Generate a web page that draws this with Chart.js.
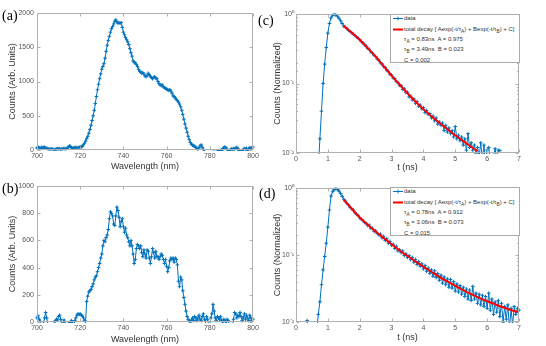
<!DOCTYPE html>
<html>
<head>
<meta charset="utf-8">
<script src="https://cdn.jsdelivr.net/npm/chart.js@4.4.1/dist/chart.umd.min.js"></script>
<style>
    body { margin: 0; background: #fff; }
    #wrap { position: relative; width: 546px; height: 346px; overflow: hidden; font-family: "Liberation Sans", Arial, sans-serif; }
    #wrap canvas { position: absolute; }
    .tag { position: absolute; font-family: "Liberation Serif", "Times New Roman", serif; font-size: 14px; line-height: 1; color: #000; }
    .legend { position: absolute; width: 128px; height: 47px; border: 1px solid #aaa; background: #fff; font-size: 6px; color: #333; }
    .legend .row { position: absolute; left: 13px; white-space: nowrap; line-height: 1; }
    .legend .sw { position: absolute; left: 2px; }
    .legend sub { font-size: 0.8em; vertical-align: -0.35em; line-height: 0; }
</style>
</head>
<body>
<div id="wrap">
    <canvas id="ca" width="273" height="173" style="left:0;top:0"></canvas>
    <canvas id="cb" width="273" height="173" style="left:0;top:173px"></canvas>
    <canvas id="cc" width="273" height="173" style="left:273px;top:0"></canvas>
    <canvas id="cd" width="273" height="173" style="left:273px;top:173px"></canvas>

    <div class="tag" style="left:2px;top:9px">(a)</div>
    <div class="tag" style="left:2px;top:182px">(b)</div>
    <div class="tag" style="left:258px;top:14px">(c)</div>
    <div class="tag" style="left:259px;top:187px">(d)</div>

    <div class="legend" style="left:390px;top:14px">
        <svg class="sw" style="top:1px" width="10" height="5"><line x1="0" y1="2.5" x2="10" y2="2.5" stroke="#0072BD" stroke-width="1"/><path d="M5 0.5V4.5M3 2.5H7" stroke="#0072BD" stroke-width="0.9"/></svg>
        <div class="row" style="top:0px">data</div>
        <svg class="sw" style="top:12px" width="10" height="5"><line x1="0" y1="2.5" x2="10" y2="2.5" stroke="#ff0000" stroke-width="2"/></svg>
        <div class="row" style="top:11px">total decay [ Aexp(-t/&tau;<sub>A</sub>) + Bexp(-t/&tau;<sub>B</sub>) + C]</div>
        <div class="row" style="top:21px">&tau;<sub>A</sub> = 0.83ns&nbsp; A = 0.975</div>
        <div class="row" style="top:31px">&tau;<sub>B</sub> = 3.49ns&nbsp; B = 0.023</div>
        <div class="row" style="top:42px">C = 0.002</div>
    </div>
    <div class="legend" style="left:390px;top:187px">
        <svg class="sw" style="top:1px" width="10" height="5"><line x1="0" y1="2.5" x2="10" y2="2.5" stroke="#0072BD" stroke-width="1"/><path d="M5 0.5V4.5M3 2.5H7" stroke="#0072BD" stroke-width="0.9"/></svg>
        <div class="row" style="top:0px">data</div>
        <svg class="sw" style="top:12px" width="10" height="5"><line x1="0" y1="2.5" x2="10" y2="2.5" stroke="#ff0000" stroke-width="2"/></svg>
        <div class="row" style="top:11px">total decay [ Aexp(-t/&tau;<sub>A</sub>) + Bexp(-t/&tau;<sub>B</sub>) + C]</div>
        <div class="row" style="top:21px">&tau;<sub>A</sub> = 0.78ns&nbsp; A = 0.912</div>
        <div class="row" style="top:31px">&tau;<sub>B</sub> = 3.06ns&nbsp; B = 0.073</div>
        <div class="row" style="top:42px">C = 0.015</div>
    </div>
</div>
<script>
// --- data ---

// spectra, 700..800 nm every 0.5 nm (negative = below the axis, clipped)
const specStart = 700, specStep = 0.5;
const specA = [
    30, 40, 35, 25, 40, 30, 35, 40, 30, 25,
    20, 15, 10, 20, 15, 10, 5, 10, 15, 20,
    15, 20, 10, 15, 20, 25, 15, 20, 30, 40,
    60, 50, 35, 25, 30, 35, 40, 30, 35, 40,
    40, 45, 55, 75, 100, 130, 165, 200, 245, 300,
    360, 430, 500, 580, 680, 780, 880, 960, 1040, 1110,
    1180, 1220, 1260, 1340, 1440, 1530, 1600, 1660, 1720, 1770,
    1800, 1840, 1880, 1900, 1870, 1850, 1860, 1850, 1860, 1790,
    1720, 1680, 1640, 1610, 1580, 1540, 1480, 1420, 1370, 1300,
    1280, 1270, 1250, 1220, 1180, 1150, 1140, 1120, 1130, 1110,
    1080, 1070, 1090, 1120, 1100, 1070, 1060, 1040, 1060, 1070,
    1050, 1040, 1000, 970, 950, 940, 950, 920, 910, 900,
    890, 880, 870, 880, 860, 830, 790, 780, 760, 740,
    720, 700, 670, 630, 580, 520, 450, 380, 320, 260,
    200, 150, 110, 85, 70, 60, 55, 40, 25, 10,
    30, 60, 75, 40, 10, -20, -40, -60, -50, -45,
    -50, -40, -35, -45, -30, -40, -35, -20, -15, -10,
    -10, -5, 20, 35, 45, 30, 10, -15, -20, 5,
    15, 10, 20, 15, 25, 40, 20, -10, -25, -20,
    -10, 10, 20, 15, 25, -10, 20, 30, 25, 35,
    40
];
const specB = [
    30, 45, 20, 5, -20, -30, -10, 30, 70, 30,
    -20, -40, -50, -30, -40, -20, -10, 10, 20, 15,
    40, 50, 20, -10, -20, 15, -10, -30, -20, -10,
    -20, -5, 10, -10, -30, 10, 30, 50, 60, 55,
    60, 50, 45, 30, 10, 5, 150, 190, 220, 230,
    240, 260, 280, 310, 330, 340, 370, 400, 430, 470,
    500, 560, 600, 590, 620, 640, 680, 760, 810, 800,
    780, 720, 710, 780, 845, 820, 770, 700, 740, 760,
    700, 660, 690, 640, 620, 590, 560, 600, 560, 500,
    430, 460, 540, 570, 560, 540, 560, 510, 480, 530,
    500, 470, 530, 520, 470, 430, 480, 540, 510, 470,
    520, 480, 480, 460, 480, 500, 490, 460, 430, 460,
    410, 370, 400, 450, 470, 460, 470, 440, 470, 460,
    420, 300, 260, 330, 310, 230, 180, 130, 80, 40,
    20, 10, 0, 15, 30, 10, 40, 30, 10, 30,
    50, 20, 10, 40, 60, 20, 5, 40, 20, -20,
    -30, 30, 60, 130, 80, 30, 10, 40, 30, 20,
    40, 10, -10, 20, 10, -20, 20, 10, -20, -30,
    -30, -20, 20, 70, 60, 30, 50, 40, 70, 40,
    10, 30, 60, 20, 50, 30, 10, 50, 30, 10,
    20
];

// decays, normalized counts every 0.05 ns
const decayStep = 0.05;
const decayCStart = 0.70;
const decayC = [
    0.006, 0.016, 0.040, 0.10, 0.19, 0.33, 0.53, 0.73, 0.88, 0.96,
    0.98, 0.97, 0.93, 0.87, 0.80, 0.73, 0.67, 0.64, 0.62, 0.58,
    0.56, 0.54, 0.51, 0.49, 0.47, 0.445, 0.43, 0.40, 0.385, 0.36,
    0.345, 0.32, 0.31, 0.285, 0.275, 0.255, 0.245, 0.225, 0.218, 0.198,
    0.192, 0.175, 0.170, 0.155, 0.150, 0.136, 0.133, 0.120, 0.118, 0.106,
    0.104, 0.094, 0.093, 0.082, 0.084, 0.074, 0.075, 0.064, 0.066, 0.058,
    0.060, 0.052, 0.055, 0.047, 0.049, 0.043, 0.045, 0.038, 0.041, 0.036,
    0.037, 0.032, 0.034, 0.029, 0.032, 0.026, 0.028, 0.025, 0.027, 0.021,
    0.025, 0.020, 0.023, 0.019, 0.021, 0.017, 0.024, 0.016, 0.018, 0.015,
    0.017, 0.013, 0.016, 0.011, 0.019, 0.012, 0.014, 0.011, 0.013, 0.010,
    0.012, 0.009, 0.014, 0.008, 0.013, 0.007, 0.011, 0.012, 0.008, 0.006,
    0.009, 0.0115, 0.008, 0.011, 0.0108
];
const decayDStart = 0.35;
const decayD = [
    0.0105, 0.004, 0.003, 0.003, 0.004, 0.005, 0.007, 0.013, 0.020, 0.036,
    0.06, 0.095, 0.15, 0.26, 0.47, 0.76, 0.88, 0.95, 0.97, 0.95,
    0.90, 0.83, 0.75, 0.68, 0.64, 0.59, 0.56, 0.515, 0.49, 0.47,
    0.43, 0.405, 0.39, 0.36, 0.34, 0.33, 0.305, 0.30, 0.275, 0.28,
    0.25, 0.25, 0.225, 0.23, 0.21, 0.20, 0.205, 0.18, 0.19, 0.165,
    0.175, 0.15, 0.16, 0.14, 0.145, 0.125, 0.135, 0.115, 0.12, 0.108,
    0.115, 0.098, 0.104, 0.092, 0.098, 0.085, 0.092, 0.078, 0.086, 0.072,
    0.080, 0.068, 0.074, 0.062, 0.070, 0.057, 0.064, 0.053, 0.060, 0.048,
    0.058, 0.046, 0.053, 0.042, 0.050, 0.038, 0.047, 0.036, 0.044, 0.033,
    0.043, 0.032, 0.040, 0.029, 0.037, 0.028, 0.035, 0.026, 0.033, 0.024,
    0.031, 0.022, 0.030, 0.021, 0.034, 0.022, 0.027, 0.019, 0.026, 0.018,
    0.025, 0.017, 0.024, 0.016, 0.027, 0.015, 0.022, 0.013, 0.020, 0.014,
    0.021, 0.012, 0.019, 0.010, 0.017, 0.011, 0.018, 0.008, 0.016, 0.009,
    0.017, 0.013, 0.016, 0.015
];

// fitted curves (red)
const fitCt = [1.5, 1.75, 2.0, 2.25, 2.5, 2.75, 3.0, 3.25, 3.5, 3.75, 4.0, 4.25, 4.5, 4.75, 5.0, 5.25, 5.5, 5.7];
const fitCv = [0.676, 0.537, 0.427, 0.324, 0.243, 0.178, 0.130, 0.0966, 0.0724, 0.0550, 0.0427, 0.0339, 0.0272, 0.0221, 0.0180, 0.0148, 0.0123, 0.0106];
const fitDt = [1.5, 1.75, 2.0, 2.25, 2.5, 2.75, 3.0, 3.25, 3.5, 3.75, 4.0, 4.25, 4.5, 4.75, 5.0, 5.25, 5.5, 5.75, 6.0, 6.25, 6.5, 6.75, 7.0];
const fitDv = [0.661, 0.490, 0.363, 0.282, 0.224, 0.180, 0.145, 0.117, 0.0966, 0.0804, 0.0668, 0.0562, 0.0473, 0.0403, 0.0347, 0.0299, 0.0260, 0.0229, 0.0204, 0.0184, 0.0166, 0.0151, 0.0140];

// --- styling ---
const FONT = '"Liberation Sans", Arial, sans-serif';
const BLUE = '#0072BD';
const AXIS = '#b0b0b0';
const TICK = '#555';
const TITLE = '#333';
const SUP = { '0': '\u2070', '1': '\u00b9', '2': '\u00b2', '-': '\u207b' };

const grid = (start, step, n) => Array.from({ length: n }, (_, i) => +(start + i * step).toFixed(2));
const pts = (xs, ys) => xs.map((x, i) => ({ x, y: ys[i] }));
const isMajor = v => Math.abs(Math.log10(v) - Math.round(Math.log10(v))) < 1e-6;

// matlab-ish box with inward ticks
const boxPlugin = {
    id: 'box',
    afterDraw(chart) {
        const { ctx, chartArea: a, scales } = chart;
        const L = Math.round(a.left) + 0.5, R = Math.round(a.right) - 0.5;
        const T = Math.round(a.top) + 0.5, B = Math.round(a.bottom) - 0.5;
        ctx.save();
        ctx.strokeStyle = AXIS;
        ctx.lineWidth = 1;
        ctx.strokeRect(L, T, R - L, B - T);
        ctx.beginPath();
        scales.x.ticks.forEach(t => {
            const px = Math.round(scales.x.getPixelForValue(t.value)) + 0.5;
            ctx.moveTo(px, B); ctx.lineTo(px, B - 3);
            ctx.moveTo(px, T); ctx.lineTo(px, T + 3);
        });
        const logY = scales.y.type === 'logarithmic';
        scales.y.ticks.forEach(t => {
            const py = Math.round(scales.y.getPixelForValue(t.value)) + 0.5;
            const len = (!logY || isMajor(t.value)) ? 3 : 1.5;
            ctx.moveTo(L, py); ctx.lineTo(L + len, py);
            ctx.moveTo(R, py); ctx.lineTo(R - len, py);
        });
        ctx.stroke();
        ctx.restore();
    }
};

function makePanel(id, o) {
    const datasets = [{
        data: o.data,
        borderColor: BLUE,
        backgroundColor: BLUE,
        borderWidth: 1,
        pointStyle: 'cross',
        pointRadius: o.marker,
        pointBorderWidth: 1,
        pointBorderColor: BLUE,
        clip: { left: 2, right: 2, top: 2, bottom: 1 },
        order: 1
    }];
    if (o.fit) {
        datasets.push({
            data: o.fit,
            borderColor: '#ff0000',
            borderWidth: 2,
            pointRadius: 0,
            cubicInterpolationMode: 'monotone',
            order: 0
        });
    }
    const yTicks = o.log
        ? { autoSkip: false, padding: 2, color: TICK, font: { family: FONT, size: 7 },
            callback: v => isMajor(v) ? '10' + String(Math.round(Math.log10(v))).split('').map(c => SUP[c]).join('') : '' }
        : { stepSize: o.ystep, autoSkip: false, padding: 3, color: TICK, font: { family: FONT, size: 7 },
            callback: v => String(v) };

    return new Chart(document.getElementById(id), {
        type: 'line',
        data: { datasets },
        options: {
            responsive: false,
            animation: false,
            devicePixelRatio: 1,
            parsing: false,
            layout: { padding: { left: 0, right: o.padR, top: o.padT, bottom: 0 } },
            plugins: { legend: { display: false }, tooltip: { enabled: false } },
            scales: {
                x: {
                    type: 'linear', min: o.xmin, max: o.xmax,
                    ticks: { stepSize: o.xstep, autoSkip: false, maxRotation: 0, padding: 2, color: TICK, font: { family: FONT, size: 7 },
                             callback: v => String(v) },
                    grid: { display: false, drawTicks: false }, border: { display: false },
                    title: { display: true, text: o.xtitle, color: TITLE, font: { family: FONT, size: 9 }, padding: { top: 0, bottom: o.xtpad } },
                    afterFit: s => { s.height = o.xh; }
                },
                y: {
                    type: o.log ? 'logarithmic' : 'linear', min: o.ymin, max: o.ymax,
                    ticks: yTicks,
                    grid: { display: false, drawTicks: false }, border: { display: false },
                    title: { display: true, text: o.ytitle, color: TITLE, font: { family: FONT, size: 9, lineHeight: 1 }, padding: { top: o.ytpad, bottom: 0 } },
                    afterFit: s => { s.width = o.yw; }
                }
            }
        },
        plugins: [boxPlugin]
    });
}

const wl = grid(specStart, specStep, specA.length);

makePanel('ca', {
    data: pts(wl, specA), marker: 1.8,
    xmin: 700, xmax: 800, xstep: 20, xtitle: 'Wavelength (nm)', xh: 23, xtpad: 1.5,
    ymin: 0, ymax: 2000, ystep: 500, ytitle: 'Counts (Arb. Units)', yw: 37, ytpad: 8,
    padR: 20, padT: 13
});
makePanel('cb', {
    data: pts(wl, specB), marker: 1.8,
    xmin: 700, xmax: 800, xstep: 20, xtitle: 'Wavelength (nm)', xh: 24, xtpad: 1.5,
    ymin: 0, ymax: 1000, ystep: 200, ytitle: 'Counts (Arb. Units)', yw: 37, ytpad: 8,
    padR: 20, padT: 13
});
makePanel('cc', {
    data: pts(grid(decayCStart, decayStep, decayC.length), decayC), marker: 1.8,
    fit: pts(fitCt, fitCv),
    xmin: 0, xmax: 7, xstep: 1, xtitle: 't (ns)', xh: 20, xtpad: 0,
    log: true, ymin: 0.01, ymax: 1, ytitle: 'Counts (Normalized)', yw: 23, ytpad: 0,
    padR: 27, padT: 14
});
makePanel('cd', {
    data: pts(grid(decayDStart, decayStep, decayD.length), decayD), marker: 1.8,
    fit: pts(fitDt, fitDv),
    xmin: 0, xmax: 7, xstep: 1, xtitle: 't (ns)', xh: 24, xtpad: 3.5,
    log: true, ymin: 0.01, ymax: 1, ytitle: 'Counts (Normalized)', yw: 23, ytpad: 0,
    padR: 27, padT: 15
});
</script>
</body>
</html>
